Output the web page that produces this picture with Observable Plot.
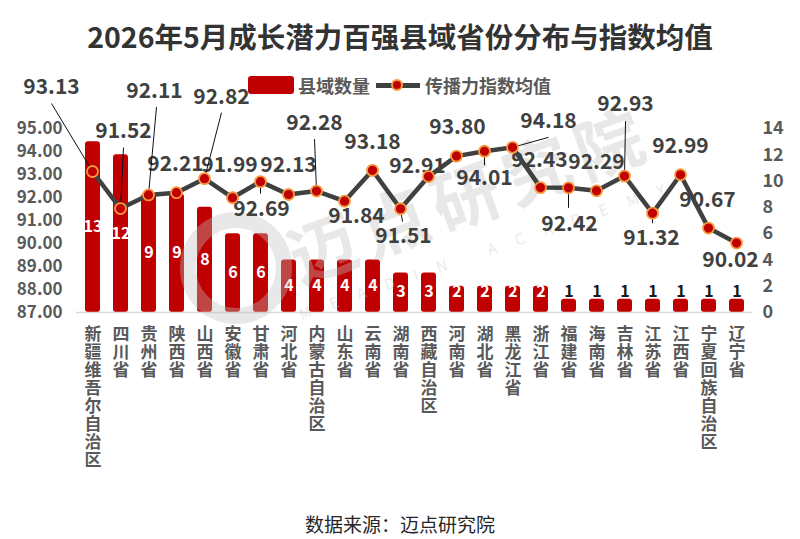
<!DOCTYPE html>
<html>
<head>
<meta charset="utf-8">
<script src="https://cdn.jsdelivr.net/npm/d3@7"></script>
<script src="https://cdn.jsdelivr.net/npm/@observablehq/plot@0.6"></script>
<style>
  html, body { margin: 0; padding: 0; background: #fff; }
  #page { position: relative; width: 800px; height: 539px; overflow: hidden; font-family: "Noto Sans CJK SC", "Noto Sans", sans-serif; }
  #title { position: absolute; top: 14px; left: 0; width: 800px; text-align: center; font-size: 28.5px; font-weight: bold; color: #333; line-height: 44px; }
  #legend { position: absolute; top: 74px; left: 248px; height: 22px; display: flex; align-items: center; font-size: 18px; font-weight: bold; color: #595959; z-index: 5; }
  #legend .sw { width: 46px; height: 18px; background: #C00000; border-radius: 3px; margin-right: 4px; }
  #legend .ln { position: relative; width: 44px; height: 5px; background: #404040; margin: 0 5px 0 6px; }
  #legend .ln i { position: absolute; left: 15px; top: -4px; width: 8px; height: 8px; border-radius: 50%; background: #C00000; border: 2px solid #F39A3C; box-sizing: content-box; }
  #chart { position: absolute; top: 62px; left: 0; width: 800px; height: 440px; }
  #chart > svg, #chart > figure { position: absolute; top: 0; left: 0; }
  #wm { position: absolute; left: 0; top: 0; width: 800px; height: 440px; pointer-events: none; }
  #caption { position: absolute; top: 509px; left: 0; width: 800px; text-align: center; font-size: 19px; color: #262626; line-height: 30px; }
</style>
</head>
<body>
<div id="page">
  <div id="title"></div>
  <div id="legend"></div>
  <div id="chart"></div>
  <div id="caption"></div>
</div>
<script>
// ---- data ----
const titleText = "2026年5月成长潜力百强县域省份分布与指数均值";
const captionText = "数据来源：迈点研究院";
const seriesNames = ["县域数量", "传播力指数均值"];
const provinces = ["新疆维吾尔自治区","四川省","贵州省","陕西省","山西省","安徽省","甘肃省","河北省","内蒙古自治区","山东省","云南省","湖南省","西藏自治区","河南省","湖北省","黑龙江省","浙江省","福建省","海南省","吉林省","江苏省","江西省","宁夏回族自治区","辽宁省"];
const counts = [13,12,9,9,8,6,6,4,4,4,4,3,3,2,2,2,2,1,1,1,1,1,1,1];
const indexValues = [93.13,91.52,92.11,92.21,92.82,91.99,92.69,92.13,92.28,91.84,93.18,91.51,92.91,93.80,94.01,94.18,92.43,92.42,92.29,92.93,91.32,92.99,90.67,90.02];
const leftTicks = [87,88,89,90,91,92,93,94,95];
const rightTicks = [0,2,4,6,8,10,12,14];

// ---- layout (label offsets in px, leader line end offsets in px) ----
const labelOffsets = [[-41,-84],[3,-77],[6,-104],[-1,-28],[17,-81],[-3,-32],[1,28],[0,-29],[-2,-68],[12,15],[0,-28],[3,27],[-11,-10],[1,-29],[0,27],[36,-26],[-1,-27],[1,36],[0,-29],[1,-72],[-1,25],[0,-28],[-1,-28],[-6,17]];
const leaderEnds = [[-41,-68],[3,-61],[8,-88],null,[17,-66],null,[0,12],null,[-2,-52],null,null,[2,13],null,null,[0,14],[36,-10],null,[0,20],null,[1,-55],[0,10],null,null,null];

const data = provinces.map((p, i) => ({province: p, count: counts[i], value: indexValues[i]}));

document.getElementById("title").textContent = titleText;
document.getElementById("caption").textContent = captionText;
document.getElementById("legend").innerHTML =
  `<span class="sw"></span><span>${seriesNames[0]}</span><span class="ln"><i></i></span><span>${seriesNames[1]}</span>`;

const font = '"Noto Sans CJK SC", "Noto Sans", sans-serif';
const W = 800, H = 440;
const margins = {marginTop: 66, marginBottom: 190, marginLeft: 76, marginRight: 48};
const xScale = {domain: provinces, paddingInner: 0.48, paddingOuter: 0.24, axis: null};

function shiftText(offs) {
  return (index, scales, values, dims, context, next) => {
    const X = Float64Array.from(values.x, (v, i) => v + offs[i][0]);
    const Y = Float64Array.from(values.y, (v, i) => v + offs[i][1]);
    return next(index, scales, {...values, x: X, y: Y}, dims, context);
  };
}
function leaderRender(ends) {
  return (index, scales, values, dims, context, next) => {
    const idx = index.filter(i => ends[i]);
    const X2 = Float64Array.from(values.x1, (v, i) => v + (ends[i] ? ends[i][0] : 0));
    const Y2 = Float64Array.from(values.y1, (v, i) => v + (ends[i] ? ends[i][1] : 0));
    return next(idx, scales, {...values, x2: X2, y2: Y2}, dims, context);
  };
}
// category labels written top-to-bottom (one text element per label)
function verticalText(index, scales, values, dims, context, next) {
  const g = next(index, scales, values, dims, context);
  g.querySelectorAll("text").forEach(t => {
    t.setAttribute("writing-mode", "vertical-rl");
    t.removeAttribute("dy");
    t.setAttribute("text-anchor", "start");
    t.style.letterSpacing = "0.9px";
  });
  return g;
}

// bars plot (right axis)
const barsPlot = Plot.plot({
  width: W, height: H, ...margins,
  style: {fontFamily: font, background: "transparent", overflow: "visible"},
  x: xScale,
  y: {domain: [0, 14], axis: null},
  marks: [
    Plot.barY(data, {x: "province", y: "count", fill: "#C00000", rx: 3}),
    Plot.ruleY([0], {stroke: "#d9d9d9", strokeWidth: 1.3}),
    Plot.axisY(rightTicks, {anchor: "right", tickSize: 0, tickPadding: 10, label: null, fontSize: 18, fontWeight: "bold", fill: "#595959"}),
    Plot.text(provinces, {x: d => d, text: d => d, frameAnchor: "bottom", dy: 13, textAnchor: "start", fontSize: 17, fontWeight: "bold", fill: "#595959", render: verticalText}),
    Plot.text(data.filter(d => d.count > 1), {x: "province", y: d => Math.max(d.count / 2, 1.55), text: d => String(d.count), fill: "white", fontSize: 16, fontWeight: "bold"}),
    Plot.text(data.filter(d => d.count <= 1), {x: "province", y: d => Math.max(d.count / 2, 1.55), text: d => String(d.count), fill: "#1a1a1a", fontSize: 16, fontWeight: "bold"})
  ]
});

// line plot (left axis)
const linePlot = Plot.plot({
  width: W, height: H, ...margins,
  style: {fontFamily: font, background: "transparent", overflow: "visible"},
  x: xScale,
  y: {domain: [87, 95], axis: null},
  marks: [
    Plot.axisY(leftTicks, {anchor: "left", tickSize: 0, tickPadding: 14, label: null, tickFormat: d => d.toFixed(2), fontSize: 17, fontWeight: "bold", fill: "#595959"}),
    Plot.text(data, {x: "province", y: "value", text: d => d.value.toFixed(2), fontSize: 21, fontWeight: "bold", fill: "#404040", render: shiftText(labelOffsets)}),
    Plot.link(data, {x1: "province", y1: "value", x2: "province", y2: "value", stroke: "#111", strokeWidth: 1, render: leaderRender(leaderEnds)}),
    Plot.line(data, {x: "province", y: "value", stroke: "#404040", strokeWidth: 4.5}),
    Plot.dot(data, {x: "province", y: "value", r: 5.5, fill: "#C00000", stroke: "#F39A3C", strokeWidth: 1.8})
  ]
});

const chart = document.getElementById("chart");
chart.appendChild(barsPlot);
// watermark
const wm = document.createElementNS("http://www.w3.org/2000/svg", "svg");
wm.setAttribute("id", "wm");
wm.setAttribute("width", W); wm.setAttribute("height", H);
wm.innerHTML = `
  <g fill="#c0c0c0" fill-opacity="0.36" font-family='${font}' font-weight="bold">
    <circle cx="236" cy="206" r="48" fill="none" stroke="#c0c0c0" stroke-opacity="0.36" stroke-width="16"></circle>
    <text x="472" y="140" font-size="68" letter-spacing="8" text-anchor="middle" dominant-baseline="middle" transform="rotate(-20 472 140)">迈点研究院</text>
    <text x="492" y="188" font-size="15" font-weight="normal" letter-spacing="20" text-anchor="middle" dominant-baseline="middle" transform="rotate(-19 492 188)">MEADIN ACADEMY</text>
  </g>`;
chart.appendChild(wm);
chart.appendChild(linePlot);
</script>
</body>
</html>
